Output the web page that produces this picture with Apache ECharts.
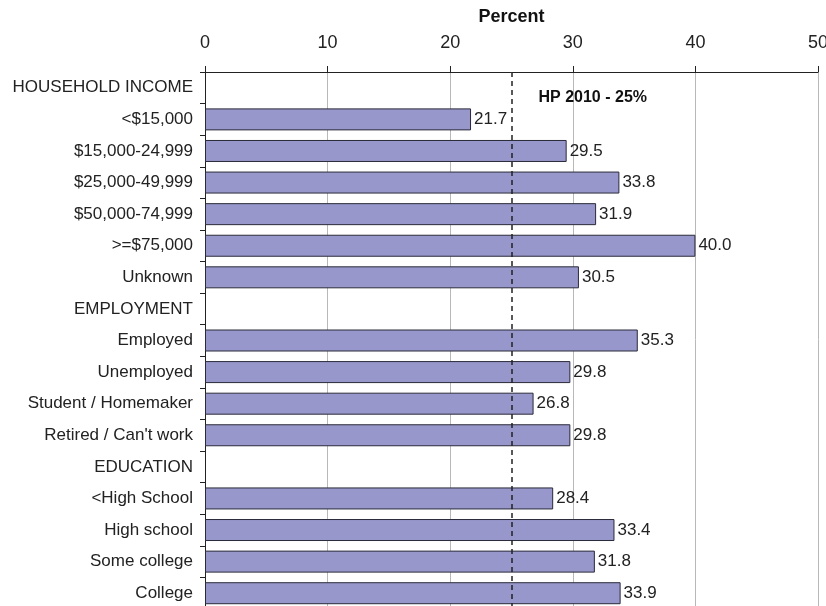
<!DOCTYPE html>
<html>
<head>
<meta charset="utf-8">
<script src="https://cdn.jsdelivr.net/npm/echarts@6/dist/echarts.min.js"></script>
<style>
  html, body { margin: 0; padding: 0; background: #fff; }
  #chart { width: 826px; height: 606px; }
</style>
</head>
<body>
<div id="chart"></div>
<script>
const categories = [
  'HOUSEHOLD INCOME', '<$15,000', '$15,000-24,999', '$25,000-49,999', '$50,000-74,999',
  '>=$75,000', 'Unknown', 'EMPLOYMENT', 'Employed', 'Unemployed', 'Student / Homemaker',
  "Retired / Can't work", 'EDUCATION', '<High School', 'High school', 'Some college', 'College'
];
// null = section header rows, no bar
const percents = [
  null, 21.7, 29.5, 33.8, 31.9, 40.0, 30.5,
  null, 35.3, 29.8, 26.8, 29.8,
  null, 28.4, 33.4, 31.8, 33.9
];
const xTicks = [0, 10, 20, 30, 40, 50];
const target = 25;
const targetLabel = 'HP 2010 - 25%';

const chart = echarts.init(document.getElementById('chart'));

chart.setOption({
  animation: false,
  textStyle: { fontFamily: 'Liberation Sans, Arial, sans-serif' },
  grid: { left: 205, right: 8, top: 72, bottom: -3, containLabel: false, outerBoundsMode: 'none' },
  xAxis: {
    type: 'value',
    position: 'top',
    min: xTicks[0],
    max: xTicks[xTicks.length - 1],
    interval: 10,
    name: 'Percent',
    nameLocation: 'middle',
    nameGap: 46,
    nameTextStyle: { fontSize: 18, fontWeight: 'bold', color: '#111' },
    axisLine: { show: true, lineStyle: { color: '#222', width: 1 } },
    axisTick: { show: true, length: 6, lineStyle: { color: '#222' } },
    axisLabel: { fontSize: 18, color: '#222', margin: 20 },
    splitLine: { show: true, lineStyle: { color: '#b8b8b8', width: 1 } }
  },
  yAxis: {
    type: 'category',
    data: categories,
    inverse: true,
    axisLine: { show: true, lineStyle: { color: '#222', width: 1 } },
    axisTick: { show: true, length: 5, lineStyle: { color: '#222' } },
    axisLabel: { fontSize: 17, color: '#222', margin: 12 },
    splitLine: { show: false }
  },
  series: [{
    type: 'bar',
    data: percents,
    barWidth: 22,
    itemStyle: { color: '#9797cb', borderColor: '#2a2a3a', borderWidth: 1 },
    label: {
      show: true,
      position: 'right',
      distance: 3,
      fontSize: 17,
      color: '#222',
      formatter: p => p.value == null ? '' : p.value.toFixed(1)
    },
    markLine: {
      silent: true,
      symbol: 'none',
      label: { show: false },
      lineStyle: { color: '#222', type: [5, 4], width: 1.5 },
      data: [{ xAxis: target }]
    },
    markPoint: {
      silent: true,
      symbol: 'circle',
      symbolSize: 0,
      data: [{ coord: [target, 0] }],
      label: {
        show: true,
        position: 'right',
        offset: [22, 10],
        fontSize: 16,
        fontWeight: 'bold',
        color: '#111',
        formatter: targetLabel
      }
    },
    z: 3
  }]
});
</script>
</body>
</html>
